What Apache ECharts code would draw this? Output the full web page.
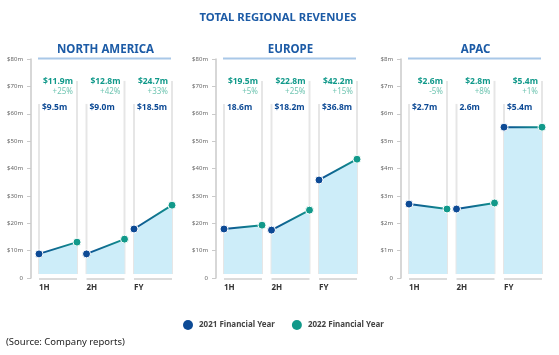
<!DOCTYPE html>
<html><head><meta charset="utf-8">
<script src="https://cdn.jsdelivr.net/npm/echarts@6/dist/echarts.min.js"></script>
<style>html,body{margin:0;padding:0;background:#fff}#c{width:559px;height:355px}</style>
</head><body><div id="c"></div><script>
// ---- data ----
const regions = ['NORTH AMERICA', 'EUROPE', 'APAC'];
const periods = ['1H', '2H', 'FY'];
const axisMax = [80, 80, 8];
const seriesNames = ['2021 Financial Year', '2022 Financial Year'];
// plotted values ($m)
const na2021 = [8.8, 8.8, 17.9];
const na2022 = [13.1, 14.2, 26.6];
const eu2021 = [17.9, 17.5, 35.8];
const eu2022 = [19.3, 24.8, 43.4];
const ap2021 = [2.70, 2.52, 5.51];
const ap2022 = [2.52, 2.74, 5.51];
// text labels
const naLabel2021 = ['$9.5m', '$9.0m', '$18.5m'];
const naLabel2022 = ['$11.9m', '$12.8m', '$24.7m'];
const naGrowth = ['+25%', '+42%', '+33%'];
const euLabel2021 = ['18.6m', '$18.2m', '$36.8m'];
const euLabel2022 = ['$19.5m', '$22.8m', '$42.2m'];
const euGrowth = ['+5%', '+25%', '+15%'];
const apLabel2021 = ['$2.7m', '2.6m', '$5.4m'];
const apLabel2022 = ['$2.6m', '$2.8m', '$5.4m'];
const apGrowth = ['-5%', '+8%', '+1%'];
const mainTitle = 'TOTAL REGIONAL REVENUES';
const sourceText = '(Source: Company reports)';

// ---- style ----
const C21 = '#0d4a95', C22 = '#11998a', CTITLE = '#1c5ba6', CFILL = '#cdedf9';
const FONT = '"Noto Sans", "Open Sans", sans-serif';

const panels = [
  {name: regions[0], max: axisMax[0], v21: na2021, v22: na2022, l21: naLabel2021, l22: naLabel2022, g: naGrowth},
  {name: regions[1], max: axisMax[1], v21: eu2021, v22: eu2022, l21: euLabel2021, l22: euLabel2022, g: euGrowth},
  {name: regions[2], max: axisMax[2], v21: ap2021, v22: ap2022, l21: apLabel2021, l22: apLabel2022, g: apGrowth}
];
const axisX = [31, 216, 401];
const TOP = 59, H = 219;

const chart = echarts.init(document.getElementById('c'));
const grids = [], xAxes = [], yAxes = [], series = [];
const colGrid = [];
panels.forEach((p, pi) => {
  const ag = grids.length;
  grids.push({left: axisX[pi], top: TOP, width: 141, height: H});
  xAxes.push({type: 'value', gridIndex: ag, show: false});
  yAxes.push({type: 'value', gridIndex: ag, min: 0, max: p.max, interval: p.max / 8,
    axisLine: {show: true, lineStyle: {color: '#cacaca', width: 1.5}},
    axisTick: {show: true, length: 4, lineStyle: {color: '#cacaca'}},
    axisLabel: {fontSize: 6, color: '#666', margin: 8, fontFamily: FONT,
      formatter: v => v === 0 ? '0' : '$' + v + 'm'},
    splitLine: {show: false}});
  colGrid.push([]);
  periods.forEach((per, ci) => {
    const gi = grids.length;
    colGrid[pi].push(gi);
    grids.push({left: axisX[pi] + 8 + ci * 47.5, top: TOP, width: 38, height: H});
    xAxes.push({type: 'category', gridIndex: gi, data: seriesNames, boundaryGap: false, show: false});
    yAxes.push({type: 'value', gridIndex: gi, min: 0, max: p.max, show: false});
    series.push({
      type: 'line', xAxisIndex: gi, yAxisIndex: gi, silent: true, animation: false, z: 3,
      data: [{value: p.v21[ci], itemStyle: {color: C21}}, {value: p.v22[ci], itemStyle: {color: C22}}],
      symbol: 'circle', symbolSize: 8,
      itemStyle: {borderColor: '#fff', borderWidth: 1},
      lineStyle: {width: 2, color: new echarts.graphic.LinearGradient(0, 0, 1, 0, [{offset: 0, color: C21}, {offset: 1, color: C22}])},
      areaStyle: {color: CFILL, opacity: 1, origin: p.max * 0.018}
    });
  });
});
series.push({type: 'scatter', name: seriesNames[0], xAxisIndex: 0, yAxisIndex: 0, data: [], itemStyle: {color: C21, opacity: 1}});
series.push({type: 'scatter', name: seriesNames[1], xAxisIndex: 0, yAxisIndex: 0, data: [], itemStyle: {color: C22, opacity: 1}});

chart.setOption({
  animation: false,
  grid: grids, xAxis: xAxes, yAxis: yAxes, series: series,
  legend: {left: 178, top: 315, itemWidth: 10, itemHeight: 10, itemGap: 17, icon: 'circle',
    data: seriesNames, itemStyle: {opacity: 1},
    textStyle: {fontSize: 8, fontWeight: 'bold', color: '#444', fontFamily: FONT, padding: [0, 0, 0, 1]}}
});

// ---- decorations through the library's scales ----
function txt(x, y, text, font, fill, align) {
  return {type: 'text', x: x, y: y, silent: true, z: 10,
    style: {text: text, font: font, fill: fill, textAlign: align, textVerticalAlign: 'middle', align: align, verticalAlign: 'middle'}};
}
function line(x1, y1, x2, y2, color, w) {
  return {type: 'line', silent: true, z: 0, shape: {x1: x1, y1: y1, x2: x2, y2: y2}, style: {stroke: color, lineWidth: w}};
}
const els = [];
els.push(txt(278, 18, mainTitle, 'bold 11.3px ' + FONT, CTITLE, 'center'));
panels.forEach((p, pi) => {
  let firstL = null, lastR = null;
  periods.forEach((per, ci) => {
    const gi = colGrid[pi][ci];
    const f = {xAxisIndex: gi, yAxisIndex: gi};
    const pL = v => chart.convertToPixel(f, [0, v]);
    const pR = v => chart.convertToPixel(f, [1, v]);
    const xl = pL(0)[0], xr = pR(0)[0];
    if (firstL === null) firstL = xl;
    lastR = xr;
    const yBase = pL(p.max * 0.018)[1];
    const yZero = pL(0)[1];
    els.push(line(xl, pL(p.max * 0.795)[1], xl, yBase, '#e6e6e6', 2));
    els.push(line(xr, pR(p.max * 0.90)[1], xr, yBase, '#e6e6e6', 2));
    els.push(line(xl, yZero + 1, xr, yZero + 1, '#cfcfcf', 1.5));
    els.push(txt(xl + 3, pL(p.max * 0.776)[1], p.l21[ci], 'bold 8.5px ' + FONT, C21, 'left'));
    els.push(txt(xr - 4, pR(p.max * 0.895)[1], p.l22[ci], 'bold 8.5px ' + FONT, C22, 'right'));
    els.push(txt(xr - 4, pR(p.max * 0.849)[1], p.g[ci], '8px ' + FONT, '#72c6b3', 'right'));
    els.push(txt(xl, yZero + 10, per, 'bold 8px ' + FONT, '#333', 'left'));
  });
  const yTop = chart.convertToPixel({yAxisIndex: colGrid[pi][0]}, p.max);
  els.push(line(firstL - 1, yTop - 0.5, lastR - 1, yTop - 0.5, '#a9c8e8', 2));
  els.push(txt((firstL + lastR) / 2, yTop - 9, p.name, 'bold 11.5px ' + FONT, CTITLE, 'center'));
});
els.push(txt(6, 342, sourceText, '9.5px ' + FONT, '#222', 'left'));
chart.setOption({graphic: {elements: els}});
</script></body></html>
